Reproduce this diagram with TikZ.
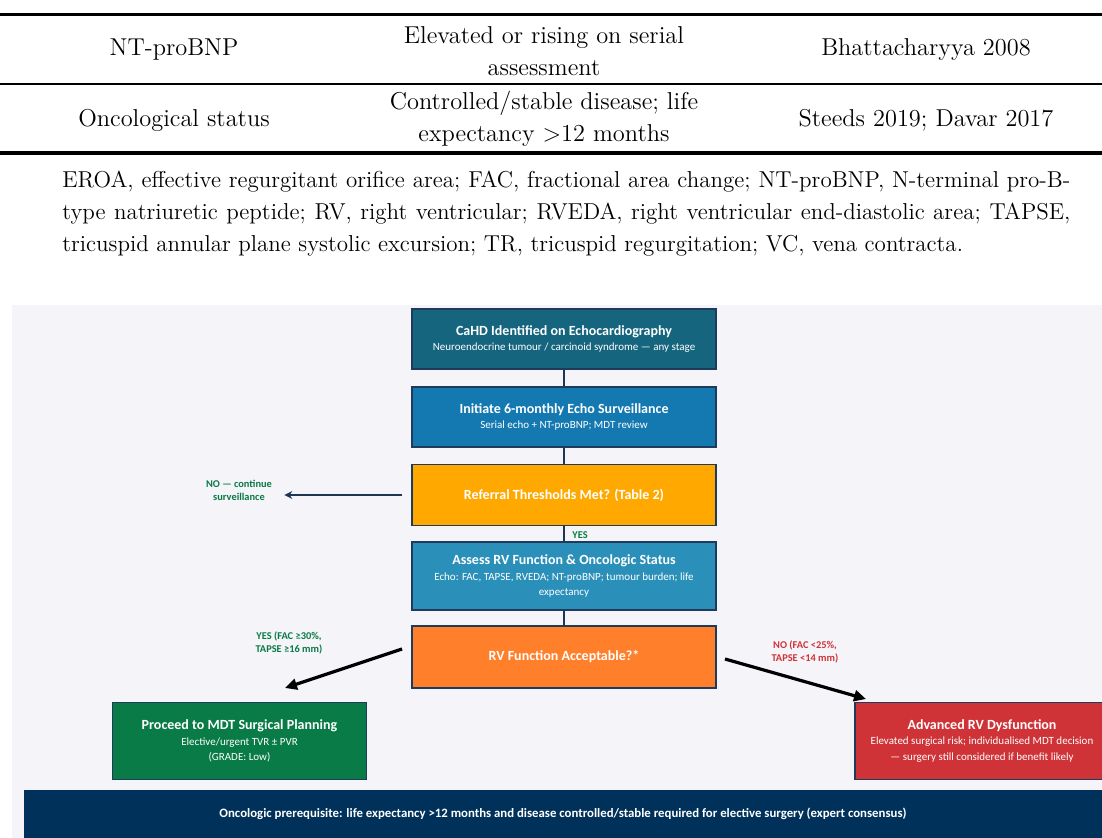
\documentclass[tikz,border=0pt]{standalone}
\usepackage{fontspec}
\newfontfamily\calibri{Carlito}
\usetikzlibrary{positioning,arrows.meta,calc}
\definecolor{panelbg}{HTML}{F4F4F9}
\definecolor{cahdTeal}{HTML}{15657E}
\definecolor{survBlue}{HTML}{1479B1}
\definecolor{refAmber}{HTML}{FFA800}
\definecolor{assessBlue}{HTML}{2A90B9}
\definecolor{rvOrange}{HTML}{FF7F2B}
\definecolor{planGreen}{HTML}{097B46}
\definecolor{advRed}{HTML}{CF3338}
\definecolor{bannerNavy}{HTML}{00315A}
\definecolor{lineNavy}{HTML}{1D3654}
\definecolor{boxEdge}{HTML}{1E3A5C}
\definecolor{yesGreen}{HTML}{0A7A45}
\definecolor{noRed}{HTML}{D03338}
\newcommand{\subtxt}[1]{{\fontsize{5.5}{6.7}\selectfont #1}}

\begin{document}
\begin{tikzpicture}[x=0.5pt,y=-0.5pt,
    every node/.style={inner sep=0pt},
    cell/.style={font=\fontsize{12.2}{16}\selectfont, align=center},
    note/.style={font=\fontsize{11.5}{16}\selectfont, align=left},
    box/.style={draw=boxEdge, line width=0.6pt, minimum width=152pt, minimum height=30pt,
      text=white, align=center, font=\calibri\fontsize{7}{7.8}\selectfont},
    endbox/.style={box, minimum width=127pt, minimum height=38.5pt},
    lbl/.style={font=\calibri\bfseries\fontsize{5.2}{6.6}\selectfont, align=center},
    link/.style={draw=lineNavy, line width=1pt},
    go/.style={-{Triangle[length=6pt,width=5.5pt]}, line width=1.6pt}]
  \useasboundingbox (0,0) rectangle (1102,838);
  \fill[white] (0,0) rectangle (1102,838);

  \draw[line width=1.6pt] (0,14.5) -- (1102,14.5);
  \draw[line width=1.1pt] (0,84) -- (1102,84);
  \draw[line width=1.6pt] (0,153) -- (1102,153);
  \node[cell] (bnp)   at (174,50)  {NT-proBNP};
  \node[cell] (bnpc)  at (544,51)  {Elevated or rising on serial\\assessment};
  \node[cell] (bnpr)  at (926,50)  {Bhattacharyya 2008};
  \node[cell] (onc)   at (174,120) {Oncological status};
  \node[cell] (oncc)  at (544,119) {Controlled/stable disease; life\\expectancy >12 months};
  \node[cell] (oncr)  at (926,120) {Steeds 2019; Davar 2017};
  \node[note, anchor=north west] (abbr) at (62,171) {%
    \makebox[504pt][s]{EROA, effective regurgitant orifice area; FAC, fractional area change; NT-proBNP, N-terminal pro-B-}\\
    \makebox[504pt][s]{type natriuretic peptide; RV, right ventricular; RVEDA, right ventricular end-diastolic area; TAPSE,}\\
    tricuspid annular plane systolic excursion; TR, tricuspid regurgitation; VC, vena contracta.};

  \fill[panelbg] (12,305) rectangle (1102,838);

  \node[box, fill=cahdTeal] (cahd) at (564,339)
    {\textbf{CaHD Identified on Echocardiography}\\\subtxt{Neuroendocrine tumour / carcinoid syndrome — any stage}};
  \node[box, fill=survBlue] (surv) at (564,417)
    {\textbf{Initiate 6-monthly Echo Surveillance}\\\subtxt{Serial echo + NT-proBNP; MDT review}};
  \node[box, fill=refAmber, minimum height=30.5pt] (refer) at (564,495)
    {\textbf{Referral Thresholds Met? (Table 2)}};
  \node[box, fill=assessBlue, minimum height=34pt] (assess) at (564,576)
    {\textbf{Assess RV Function \& Oncologic Status}\\\subtxt{Echo: FAC, TAPSE, RVEDA; NT-proBNP; tumour burden; life}\\\subtxt{expectancy}};
  \node[box, fill=rvOrange, minimum height=31pt] (rvok) at (564,657)
    {\textbf{RV Function Acceptable?*}};
  \node[endbox, fill=planGreen] (plan) at (239.5,741)
    {\textbf{Proceed to MDT Surgical Planning}\\\subtxt{Elective/urgent TVR ± PVR}\\\subtxt{(GRADE: Low)}};
  \node[endbox, fill=advRed] (adv) at (982,741)
    {\textbf{Advanced RV Dysfunction}\\\subtxt{Elevated surgical risk; individualised MDT decision}\\\subtxt{— surgery still considered if benefit likely}};
  \node[fill=bannerNavy, minimum width=539pt, minimum height=24pt, text=white,
    font=\calibri\bfseries\fontsize{6.4}{7.6}\selectfont] (prereq) at (563,814)
    {Oncologic prerequisite: life expectancy >12 months and disease controlled/stable required for elective surgery (expert consensus)};

  \node[lbl, text=yesGreen] (nolbl) at (239,490) {NO — continue\\surveillance};
  \node[lbl, text=yesGreen] (yeslbl) at (580,535) {YES};
  \node[lbl, text=yesGreen] (goodlbl) at (289,643) {YES (FAC ≥30\%,\\TAPSE ≥16 mm)};
  \node[lbl, text=noRed] (badlbl) at (805,652) {NO (FAC <25\%,\\TAPSE <14 mm)};
  \coordinate (goodS) at (402,649);
  \coordinate (goodE) at (285,688);
  \coordinate (badS) at (725,659);
  \coordinate (badE) at (866,699);

  \draw[link] (cahd) -- (surv);
  \draw[link] (surv) -- (refer);
  \draw[link] (refer) -- (assess);
  \draw[link] (assess) -- (rvok);
  \draw[-{Stealth[length=4pt,width=4pt]}, draw=lineNavy, line width=1.3pt, shorten <=4.5pt, shorten >=6pt]
    (refer.west) -- (nolbl.east |- refer.west);
  \draw[go] (goodS) -- (goodE);
  \draw[go] (badS) -- (badE);
\end{tikzpicture}
\end{document}
